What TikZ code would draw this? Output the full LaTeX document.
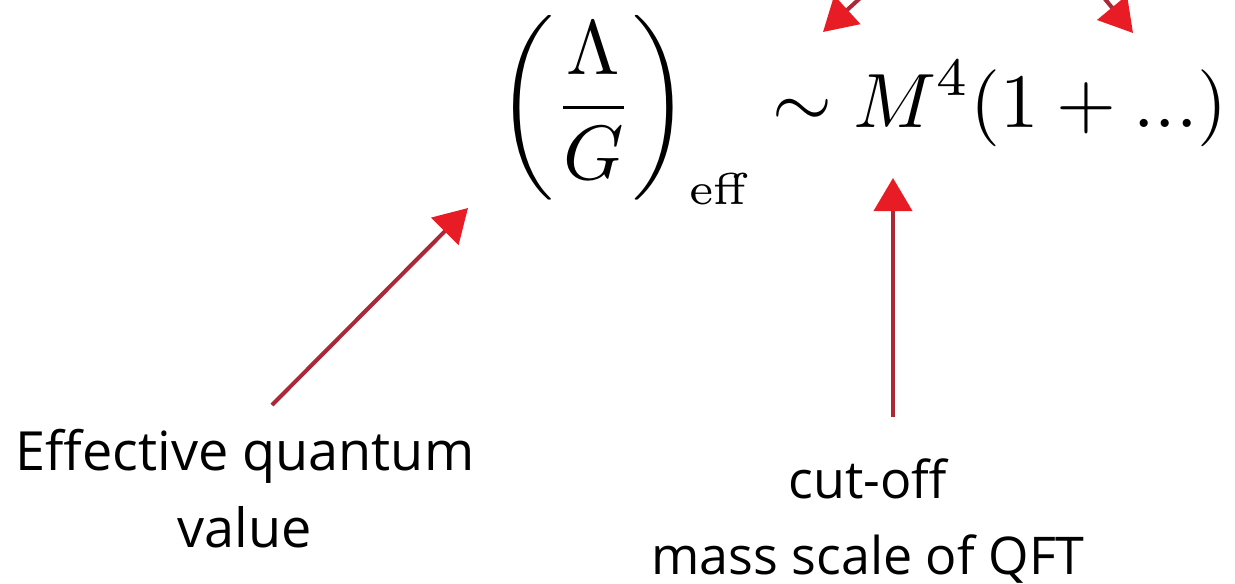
\documentclass[tikz,border=0pt]{standalone}
\usepackage{amsmath}
\usepackage{fontspec}
\newfontfamily\labelfont{Open Sans}
\usetikzlibrary{arrows.meta}
\definecolor{shaftred}{RGB}{172,40,55}
\definecolor{headred}{RGB}{232,28,36}
\tikzset{
  redarrow/.style={draw=shaftred, line width=4pt,
    -{Triangle[length=33pt,width=38pt,color=headred]}},
  lbl/.style={align=center, inner sep=0pt, text=black}
}
\begin{document}
\begin{tikzpicture}[x=1pt,y=-1pt]
\useasboundingbox (0,0) rectangle (1235,584);
\clip (0,0) rectangle (1235,584);
\fill[white] (0,0) rectangle (1235,584);
\node[anchor=base west, inner sep=0pt] (eq) at (497,127)
  {\scalebox{7.7}{$\displaystyle \left(\frac{\Lambda}{G}\right)_{\text{\fontsize{5.8}{6}\selectfont eff}} \sim M^4(1+...)$}};
\node[lbl, font=\labelfont\fontsize{54}{77}\selectfont, anchor=base] (effq) at (245,547) {Effective quantum\\value};
\node[lbl, font=\labelfont\fontsize{52}{76}\selectfont, anchor=base] (cutoff) at (868,574) {cut-off\\mass scale of QFT};
\coordinate (ltail) at (272,405);
\coordinate (ltip) at (468,208);
\coordinate (btail) at (893,417);
\coordinate (btip) at (893,178);
\coordinate (tltail) at (869,-10);
\coordinate (tltip) at (823,32);
\coordinate (trtail) at (1095,-13);
\coordinate (trtip) at (1133,33);
\draw[redarrow] (ltail) -- (ltip);
\draw[redarrow] (btail) -- (btip);
\draw[redarrow] (tltail) -- (tltip);
\draw[redarrow] (trtail) -- (trtip);
\end{tikzpicture}
\end{document}
